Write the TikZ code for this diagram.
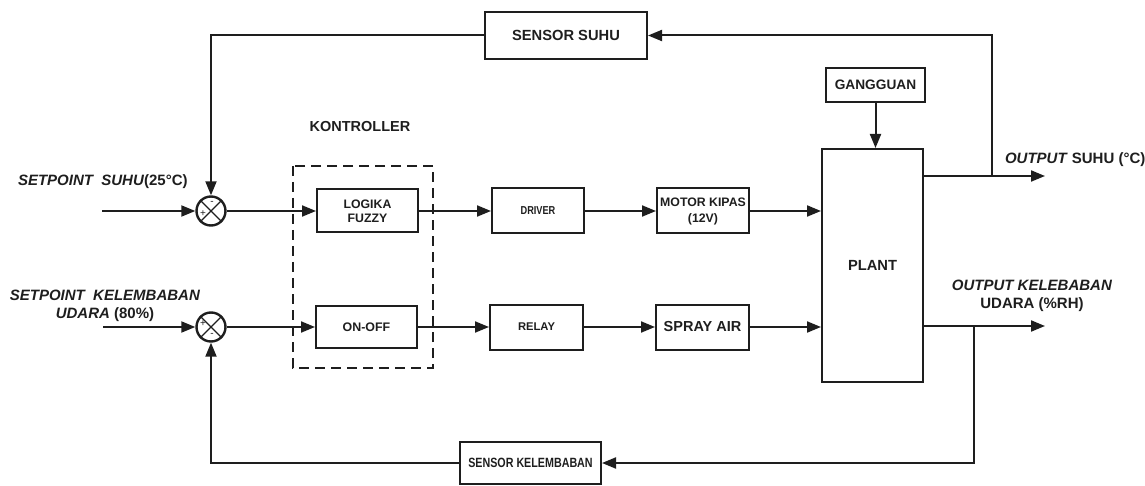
\documentclass[tikz,border=0pt]{standalone}
\usepackage{fontspec}
\setmainfont{Liberation Sans}
\newfontfamily\sempit[FakeStretch=0.8]{Liberation Sans}
\usepackage{xcolor}
\usetikzlibrary{arrows.meta,calc}
\definecolor{garis}{RGB}{30,30,30}
\newcommand{\huruf}[2]{\bfseries\fontsize{#1}{#2}\selectfont}

\begin{document}
\begin{tikzpicture}[x=1pt, y=-1pt, >={Triangle[length=14pt,width=11pt]}, line width=2pt, draw=garis,
  blok/.style={draw=garis, line width=2pt, inner sep=0pt, align=center, text=garis},
  jumlah/.style={draw=garis, circle, line width=2.4pt, minimum size=29pt, inner sep=0pt},
  tanda/.style={text=garis, inner sep=0pt, font=\fontsize{10}{10}\selectfont},
  keterangan/.style={text=garis, inner sep=0pt, align=center, font=\huruf{15}{18}}]
    \useasboundingbox (0,0) rectangle (1145,486);

    % Summing junctions
    \node[jumlah] (s1) at (211,211) {};
    \node[jumlah] (s2) at (211,327) {};
    \draw[line width=1.4pt] (s1.north west) -- (s1.south east) (s1.north east) -- (s1.south west);
    \draw[line width=1.4pt] (s2.north west) -- (s2.south east) (s2.north east) -- (s2.south west);
    \node[tanda] at ($(s1.center)+(-8,3)$) {+};
    \node[tanda] at ($(s1.center)+(1,-8)$) {-};
    \node[tanda] at ($(s2.center)+(-8,-3)$) {+};
    \node[tanda] at ($(s2.center)+(1,8)$) {-};

    % Controller (dashed frame)
    \draw[dashed, dash pattern=on 10pt off 6pt] (293,166) rectangle (433,368);
    \node[keterangan, font=\huruf{14.5}{17}] (kontrol) at (360,127) {KONTROLLER};
    \node[blok, minimum width=101pt, minimum height=43pt, font=\huruf{12.3}{14}] (fuzzy) at (367.5,211) {LOGIKA\\FUZZY};
    \node[blok, minimum width=101pt, minimum height=42pt, font=\huruf{12.4}{14}] (onoff) at (366.5,327) {ON-OFF};

    % Actuators
    \node[blok, minimum width=92pt, minimum height=45pt, font=\sempit\huruf{11.5}{13}] (driver) at (538,211) {DRIVER};
    \node[blok, minimum width=92pt, minimum height=45pt, font=\huruf{12.3}{16}] (motor) at (703,211) {MOTOR KIPAS\\(12V)};
    \node[blok, minimum width=93pt, minimum height=45pt, font=\huruf{11.2}{13}] (relay) at (536.5,327) {RELAY};
    \node[blok, minimum width=93pt, minimum height=45pt, font=\huruf{14.5}{17}] (spray) at (702.5,327) {SPRAY AIR};

    % Plant and disturbance
    \node[blok, minimum width=101pt, minimum height=233pt, font=\huruf{14.7}{17}] (plant) at (872.5,265.5) {PLANT};
    \node[blok, minimum width=99pt, minimum height=34pt, font=\huruf{13.7}{16}] (gangguan) at (875.5,85) {GANGGUAN};

    % Sensors
    \node[blok, minimum width=162pt, minimum height=47pt, font=\huruf{14.7}{17}] (ssuhu) at (566,35.5) {SENSOR SUHU};
    \node[blok, minimum width=141pt, minimum height=42pt, font=\sempit\huruf{13.4}{15}] (skel) at (530.5,463) {SENSOR KELEMBABAN};

    % Inputs
    \coordinate (in1) at (102,211);
    \coordinate (in2) at (103,327);
    \node[keterangan, anchor=west] (tsp1) at (17,182) {\textit{SETPOINT~~SUHU}(25°C)};
    \node[keterangan] (tsp2) at (105,306) {\textit{SETPOINT~~KELEMBABAN}\\\textit{UDARA} (80\%)};

    % Outputs
    \coordinate (o1) at (1045,176);
    \coordinate (o2) at (1045,326);
    \coordinate (b1) at (992,176);
    \coordinate (b2) at (974,326);
    \node[keterangan, anchor=west] (to1) at (1004,160) {\textit{OUTPUT} SUHU (°C)};
    \node[keterangan] (to2) at (1032,296) {\textit{OUTPUT KELEBABAN}\\UDARA (\%RH)};

    % Forward path
    \draw[->] (in1) -- (s1.west);
    \draw[->] (s1.east) -- (fuzzy.west);
    \draw[->] (fuzzy.east) -- (driver.west);
    \draw[->] (driver.east) -- (motor.west);
    \draw[->] (motor.east) -- (plant.west |- motor.east);
    \draw[->] (in2) -- (s2.west);
    \draw[->] (s2.east) -- (onoff.west);
    \draw[->] (onoff.east) -- (relay.west);
    \draw[->] (relay.east) -- (spray.west);
    \draw[->] (spray.east) -- (plant.west |- spray.east);
    \draw[->] (gangguan.south) -- (gangguan.south |- plant.north);

    % Outputs and feedback
    \draw[->] (plant.east |- o1) -- (o1);
    \draw[->] (plant.east |- o2) -- (o2);
    \draw[->] (b1) |- (ssuhu.east);
    \draw[->] (ssuhu.west) -| (s1.north);
    \draw[->] (b2) |- (skel.east);
    \draw[->] (skel.west) -| (s2.south);
\end{tikzpicture}
\end{document}
